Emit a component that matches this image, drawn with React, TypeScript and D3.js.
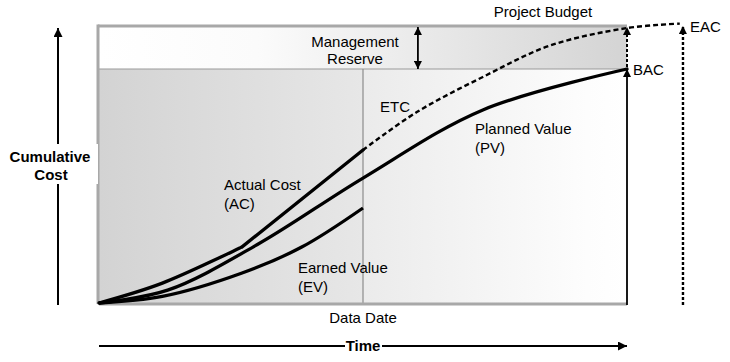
import React from "react";
import { scaleLinear, line, curveCatmullRom, curveLinear } from "d3";

const width = 730;
const height = 362;
const font = "'Liberation Sans', Arial, sans-serif";

// time axis: 0 = start, 100 = planned completion; cost axis: 100 = BAC
const dataDate = 50;
const budgetTop = 118;
const eacTime = 110.6;
const reserveArrowTime = 60.4;

const pvTimes = [0, 13, 30, 50, 72.7, 100];
const pvCosts = [0, 5.5, 25, 53.4, 82.5, 100];

// actual cost bends at ~27 and then runs straight to the data date
const acTimes = [0, 12, 27.1];
const acCosts = [0, 8.5, 24];
const acLateTimes = [27.1, 50];
const acLateCosts = [24, 65.4];

const evTimes = [0, 12, 27.1, 38.4, 50];
const evCosts = [0, 2.8, 12.8, 23.9, 40.6];

const etcTimes = [50, 60.2, 72.7, 85.4, 100, 110];
const etcCosts = [65.4, 81.6, 96.6, 110, 117.5, 119.4];

const zip = (ts: number[], cs: number[]) => ts.map((t, i) => ({ t, c: cs[i] }));

export default function App() {
  const x = scaleLinear().domain([0, 100]).range([99, 627]);
  const y = scaleLinear().domain([0, 100]).range([303, 69]);

  const smooth = line<{ t: number; c: number }>()
    .x((d) => x(d.t))
    .y((d) => y(d.c))
    .curve(curveCatmullRom.alpha(0.5));
  const straight = line<{ t: number; c: number }>()
    .x((d) => x(d.t))
    .y((d) => y(d.c))
    .curve(curveLinear);

  const left = x(0);
  const right = x(100);
  const bottom = y(0);
  const top = y(budgetTop);
  const bac = y(100);
  const dd = x(dataDate);

  const textStyle = { fontFamily: font, fontSize: 15, fill: "#000" };

  return (
    <svg
      width={width}
      height={height}
      style={{ position: "absolute", left: 0, top: 0, background: "#fff" }}
    >
      <defs>
        <linearGradient id="topBand" x1="0" x2="1" y1="0" y2="0">
          <stop offset="0" stopColor="#ffffff" />
          <stop offset="0.3" stopColor="#fbfbfb" />
          <stop offset="1" stopColor="#d4d4d4" />
        </linearGradient>
        <linearGradient id="pastBand" x1="0" x2="1" y1="0" y2="0">
          <stop offset="0" stopColor="#d3d3d3" />
          <stop offset="1" stopColor="#e7e7e7" />
        </linearGradient>
        <linearGradient id="futureBand" x1="0" x2="1" y1="0" y2="0">
          <stop offset="0" stopColor="#ebebeb" />
          <stop offset="0.85" stopColor="#fdfdfd" />
          <stop offset="1" stopColor="#ffffff" />
        </linearGradient>
        <marker id="head" viewBox="0 0 10 10" refX="10" refY="5" markerWidth="10" markerHeight="9" markerUnits="userSpaceOnUse" orient="auto-start-reverse">
          <path d="M0,0 L10,5 L0,10 z" fill="#000" />
        </marker>
        <marker id="headSmall" viewBox="0 0 10 10" refX="10" refY="5" markerWidth="9" markerHeight="8" markerUnits="userSpaceOnUse" orient="auto-start-reverse">
          <path d="M0,0 L10,5 L0,10 z" fill="#000" />
        </marker>
      </defs>

      {/* background bands */}
      <rect x={left} y={top} width={right - left} height={bac - top} fill="url(#topBand)" />
      <rect x={left} y={bac} width={dd - left} height={bottom - bac} fill="url(#pastBand)" />
      <rect x={dd} y={bac} width={right - dd} height={bottom - bac} fill="url(#futureBand)" />

      {/* frame */}
      <line x1={left} x2={right} y1={bac} y2={bac} stroke="#9a9a9a" strokeWidth={1.2} />
      <line x1={dd} x2={dd} y1={bac} y2={bottom} stroke="#8c8c8c" strokeWidth={1.2} />
      <line x1={left - 1} x2={right} y1={top - 1} y2={top - 1} stroke="#a8a8a8" strokeWidth={3} />
      <line x1={left - 1} x2={left - 1} y1={top - 2.5} y2={bottom + 1} stroke="#a8a8a8" strokeWidth={3} />
      <line x1={left} x2={right} y1={bottom + 1} y2={bottom + 1} stroke="#a8a8a8" strokeWidth={3} />

      {/* BAC arrow and budget arrow */}
      <line x1={right} x2={right} y1={bottom + 2} y2={bac} stroke="#000" strokeWidth={1.8} markerEnd="url(#headSmall)" />
      <line x1={right} x2={right} y1={bac - 2} y2={top} stroke="#000" strokeWidth={2} strokeDasharray="3,2" markerEnd="url(#headSmall)" />

      {/* EAC arrow */}
      <line x1={x(eacTime)} x2={x(eacTime)} y1={bottom + 2} y2={top - 1} stroke="#000" strokeWidth={2.4} strokeDasharray="3,2" markerEnd="url(#headSmall)" />

      {/* management reserve double arrow */}
      <line x1={x(reserveArrowTime)} x2={x(reserveArrowTime)} y1={top} y2={bac} stroke="#000" strokeWidth={1.8} markerStart="url(#headSmall)" markerEnd="url(#headSmall)" />

      {/* curves */}
      <path d={smooth(zip(etcTimes, etcCosts)) ?? ""} fill="none" stroke="#000" strokeWidth={2.4} strokeDasharray="5,3" />
      <path d={smooth(zip(pvTimes, pvCosts)) ?? ""} fill="none" stroke="#000" strokeWidth={3.3} strokeLinecap="round" />
      <path d={smooth(zip(acTimes, acCosts)) ?? ""} fill="none" stroke="#000" strokeWidth={3.3} />
      <path d={straight(zip(acLateTimes, acLateCosts)) ?? ""} fill="none" stroke="#000" strokeWidth={3.3} strokeLinecap="round" />
      <path d={smooth(zip(evTimes, evCosts)) ?? ""} fill="none" stroke="#000" strokeWidth={3.3} />

      {/* y axis arrow */}
      <line x1={58} x2={58} y1={bottom + 2} y2={top + 1} stroke="#000" strokeWidth={2} markerEnd="url(#head)" />
      <rect x={8} y={144} width={90} height={40} fill="#fff" />
      <text x={50} y={162} textAnchor="middle" style={{ ...textStyle, fontWeight: "bold" }}>Cumulative</text>
      <text x={51} y={180} textAnchor="middle" style={{ ...textStyle, fontWeight: "bold" }}>Cost</text>

      {/* time arrow */}
      <line x1={left} x2={right} y1={346} y2={346} stroke="#000" strokeWidth={2} markerEnd="url(#head)" />
      <rect x={345} y={337} width={37} height={18} fill="#fff" />
      <text x={dd} y={351} textAnchor="middle" style={{ ...textStyle, fontWeight: "bold" }}>Time</text>

      {/* labels */}
      <text x={dd} y={323} textAnchor="middle" style={textStyle}>Data Date</text>
      <text x={355} y={47} textAnchor="middle" style={textStyle}>Management</text>
      <text x={355} y={64} textAnchor="middle" style={textStyle}>Reserve</text>
      <text x={543} y={17} textAnchor="middle" style={textStyle}>Project Budget</text>
      <text x={690} y={32} style={textStyle}>EAC</text>
      <text x={633} y={75} style={textStyle}>BAC</text>
      <text x={380} y={112} style={textStyle}>ETC</text>
      <text x={475} y={134} style={textStyle}>Planned Value</text>
      <text x={475} y={153} style={textStyle}>(PV)</text>
      <text x={224} y={190} style={textStyle}>Actual Cost</text>
      <text x={224} y={209} style={textStyle}>(AC)</text>
      <text x={298} y={273} style={textStyle}>Earned Value</text>
      <text x={298} y={292} style={textStyle}>(EV)</text>
    </svg>
  );
}
